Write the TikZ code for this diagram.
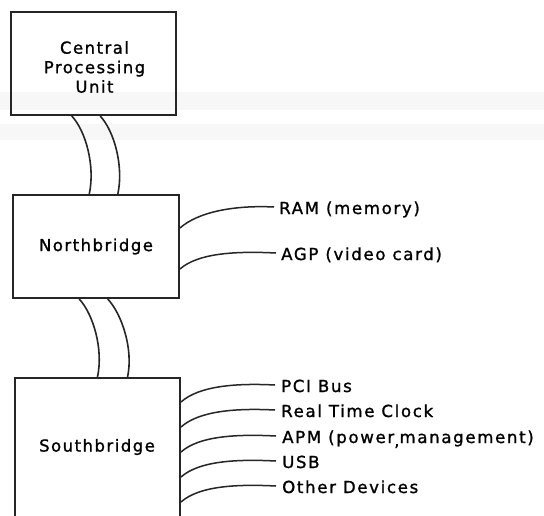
\documentclass[tikz,border=0pt]{standalone}
\usepackage{fontspec}
\setmainfont{DejaVu Sans}
\newfontfamily\chipfont[LetterSpace=9, FakeBold=1.2]{DejaVu Sans}
\newfontfamily\devfont[LetterSpace=10, FakeBold=1.2]{DejaVu Sans}
\usetikzlibrary{calc}
\tikzset{
  box/.style={draw=black!85, line width=2pt, inner sep=0pt},
  boxtext/.style={font=\chipfont\fontsize{16.5}{19.5}\selectfont, align=center, inner sep=0pt},
  bus/.style={draw=black!85, line width=1.6pt},
  wire/.style={draw=black!85, line width=1.5pt},
  devlabel/.style={font=\devfont\fontsize{16.6}{17}\selectfont, anchor=base west, inner sep=0pt},
  smudge/.style={fill=black!3, draw=none}
}
\begin{document}
\begin{tikzpicture}[x=1pt,y=-1pt]
\clip (0,0) rectangle (544,515);
\fill[white] (0,0) rectangle (544,515);

% faint grey streaks across the sheet below the CPU
\fill[smudge] (0,92) rectangle (544,110);
\fill[smudge] (0,124) rectangle (544,140);

% main chips
\node[box, minimum width=165pt, minimum height=103pt] (cpu) at (93.5,63.5) {};
\node[boxtext] (cputext) at (94.5,67) {Central\\Processing\\Unit};
\node[box, minimum width=166pt, minimum height=103pt] (nb) at (96,246.5) {};
\node[boxtext] (nbtext) at (nb.center) {Northbridge};
\node[box, minimum width=165pt, minimum height=160pt] (sb) at (97.5,458) {};
\node[boxtext] (sbtext) at (97,447) {Southbridge};

% front side bus pair between CPU and northbridge
\foreach \a/\b in {0.37/0.46, 0.54/0.63} {
  \draw[bus] ($(cpu.south west)!\a!(cpu.south east)$)
    .. controls +(14,15) and +(6,-28) ..
    ($(nb.north west)!\b!(nb.north east)$);
}
% bus pair between northbridge and southbridge
\foreach \a/\b in {0.40/0.50, 0.57/0.68} {
  \draw[bus] ($(nb.south west)!\a!(nb.south east)$)
    .. controls +(14,15) and +(6,-28) ..
    ($(sb.north west)!\b!(sb.north east)$);
}

% northbridge devices
\node[devlabel] (ram) at (279,214) {RAM (memory)};
\node[devlabel] (agp) at (281,260) {AGP (video card)};
\draw[wire] ($(nb.north east)+(0,34)$) .. controls +(18,-16) and +(-40,-2) .. ($(ram.base west)+(-5,-7)$);
\draw[wire] ($(nb.north east)+(0,75)$) .. controls +(18,-16) and +(-40,-2) .. ($(agp.base west)+(-5,-7)$);

% southbridge devices
\node[devlabel] (pci) at (281,392) {PCI Bus};
\node[devlabel] (rtc) at (281,417) {Real Time Clock};
\node[devlabel] (apm) at (282,443) {APM (power\raisebox{-0.35ex}{,}management)};
\node[devlabel] (usb) at (282,468) {USB};
\node[devlabel] (oth) at (282,493) {Other Devices};
\foreach \n/\d in {pci/25, rtc/50, apm/75, usb/100, oth/125} {
  \draw[wire] ($(sb.north east)+(0,\d)$) .. controls +(18,-16) and +(-40,-2) .. ($(\n.base west)+(-6,-7)$);
}
\end{tikzpicture}
\end{document}
